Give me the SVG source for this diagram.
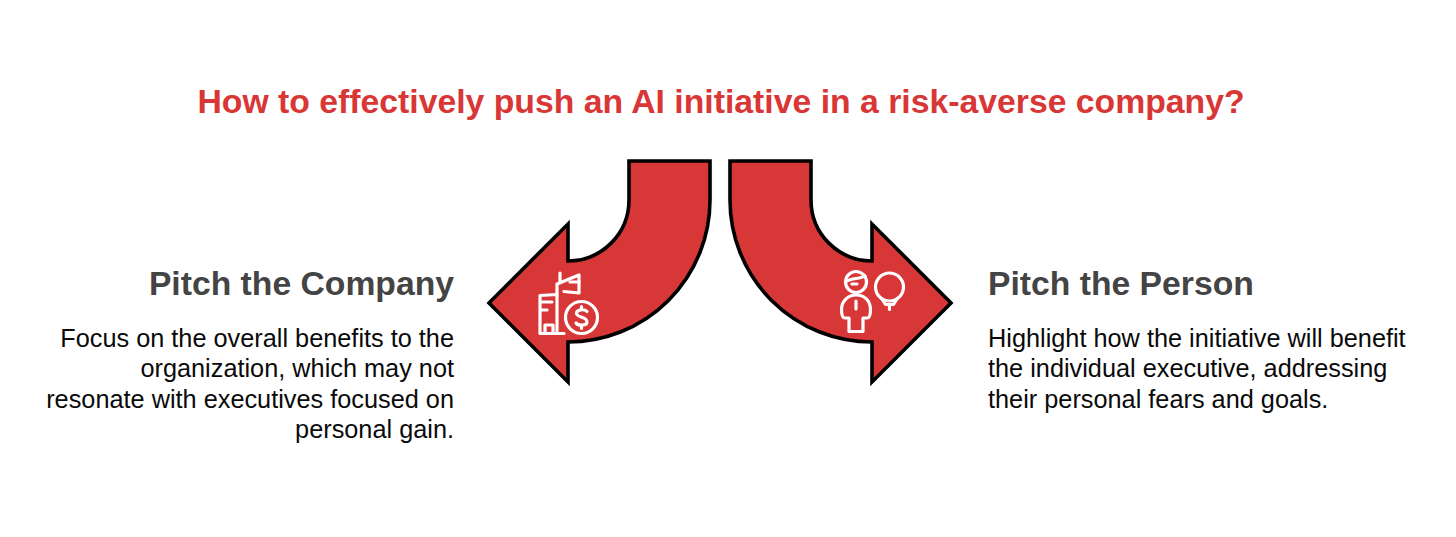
<svg xmlns="http://www.w3.org/2000/svg" width="1456" height="537" viewBox="0 0 1456 537">
<style>
text{font-family:"Liberation Sans",Arial,sans-serif}
.t{font-size:33.75px;font-weight:700;fill:#d93636}
.h{font-size:33.7px;font-weight:700;fill:#444}
.b{font-size:25.3px;fill:#0a0a0a}
.a{fill:#d73737;stroke:#000;stroke-width:3.600;stroke-linejoin:miter}
.i{fill:none;stroke:#fff;stroke-width:3.200;stroke-linejoin:round;stroke-linecap:round}
</style>
<rect width="1456" height="537" fill="#fff"/>
<text id="title" class="t" x="721" y="113" text-anchor="middle">How to effectively push an AI initiative in a risk-averse company?</text>
<g id="connectors">
<path id="arrow-left" class="a" d="M629 161H710V200A142 142 0 0 1 568 342V382L489 303L568 224V261A61 61 0 0 0 629 200Z"/>
<path id="arrow-right" class="a" d="M811 161H730V200A142 142 0 0 0 872 342V382L951 303L872 224V261A61 61 0 0 1 811 200Z"/>
</g>
<g id="node-company">
<g class="i">
<path d="M557 331V294.500L540 295.500V333.500H564"/>
<path d="M541 302H552M541 310H547"/>
<path d="M545 333V325H553V333"/>
<path d="M557 294V284L579 275V293L564 291.500M560 273V283"/>
<path d="M570 282H579"/>
<circle cx="581.500" cy="317.500" r="16"/>
<path d="M587 311.500C585 309 577 309 576.500 313C576 318 587 316 587 322C587 326 578 326 576 323M581.500 306.500V309.500M581.500 325.500V328.500"/>
</g>
<text class="h" x="454" y="295" text-anchor="end">Pitch the Company</text>
<g class="b" text-anchor="end">
<text x="454" y="347">Focus on the overall benefits to the</text>
<text x="454" y="377">organization, which may not</text>
<text x="454" y="408">resonate with executives focused on</text>
<text x="454" y="438">personal gain.</text>
</g>
</g>
<g id="node-person">
<g class="i">
<circle cx="856" cy="282" r="10.500"/>
<path d="M847 281C852 278 860 279 865 276M852 284H857"/>
<path d="M849 331.500V318H845C842 318 841.500 314 841.500 309C842 300 849 295 856 295C864 295 870 300 870.500 309C870.500 314 870 318 867 318H863V331.500Z"/>
<path d="M856 301V309"/>
<circle cx="889.500" cy="287" r="14"/>
<path d="M882 299L885.500 304.500H893.500L897 299M889.500 304.500V309.500"/>
</g>
<text class="h" x="988" y="295">Pitch the Person</text>
<g class="b">
<text x="988" y="347">Highlight how the initiative will benefit</text>
<text x="988" y="377">the individual executive, addressing</text>
<text x="988" y="408">their personal fears and goals.</text>
</g>
</g>
</svg>
